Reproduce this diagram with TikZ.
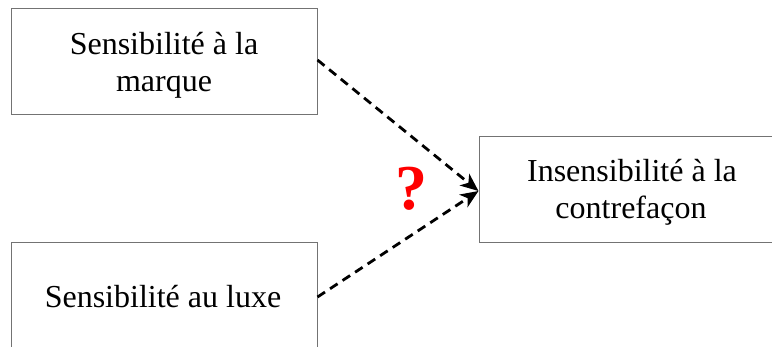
\documentclass[tikz,border=0pt]{standalone}
\usepackage{fontspec}
\setmainfont{Liberation Serif}
\usetikzlibrary{arrows.meta}
\begin{document}
\begin{tikzpicture}[x=1pt,y=-1pt,
  boxframe/.style={draw=black!55,line width=1pt},
  lbl/.style={anchor=base,inner sep=0pt,font=\fontsize{32}{37}\selectfont},
  dasharrow/.style={line width=2.8pt,dash pattern=on 9pt off 6pt,-{Stealth[length=18pt,width=15pt,inset=5pt]}}]
\clip (0,0) rectangle (772,347);
\fill[white] (0,0) rectangle (772,347);
% boxes
\node[boxframe,minimum width=306pt,minimum height=106pt,inner sep=0pt] (b1) at (164,62) {};
\node[boxframe,minimum width=306pt,minimum height=120pt,inner sep=0pt] (b2) at (164,303) {};
\node[boxframe,minimum width=306pt,minimum height=106pt,inner sep=0pt] (b3) at (632,190) {};
% texts
\node[lbl] (t1a) at (164,55) {Sensibilité à la};
\node[lbl] (t1b) at (164,92) {marque};
\node[lbl] (t2) at (163,308) {Sensibilité au luxe};
\node[lbl] (t3a) at (632,182) {Insensibilité à la};
\node[lbl] (t3b) at (631,219) {contrefaçon};
% anchors
\coordinate (s1) at (b1.east |- 0,60);
\coordinate (s2) at (b2.east |- 0,297);
\coordinate (tip) at (b3.west |- 0,191);
\draw[dasharrow] (s1) -- (tip);
\draw[dasharrow] (s2) -- (tip);
% question mark
\node[anchor=base,inner sep=0pt,text=red,font=\fontsize{64}{70}\selectfont\bfseries] (q) at (411,210) {?};
\end{tikzpicture}
\end{document}
